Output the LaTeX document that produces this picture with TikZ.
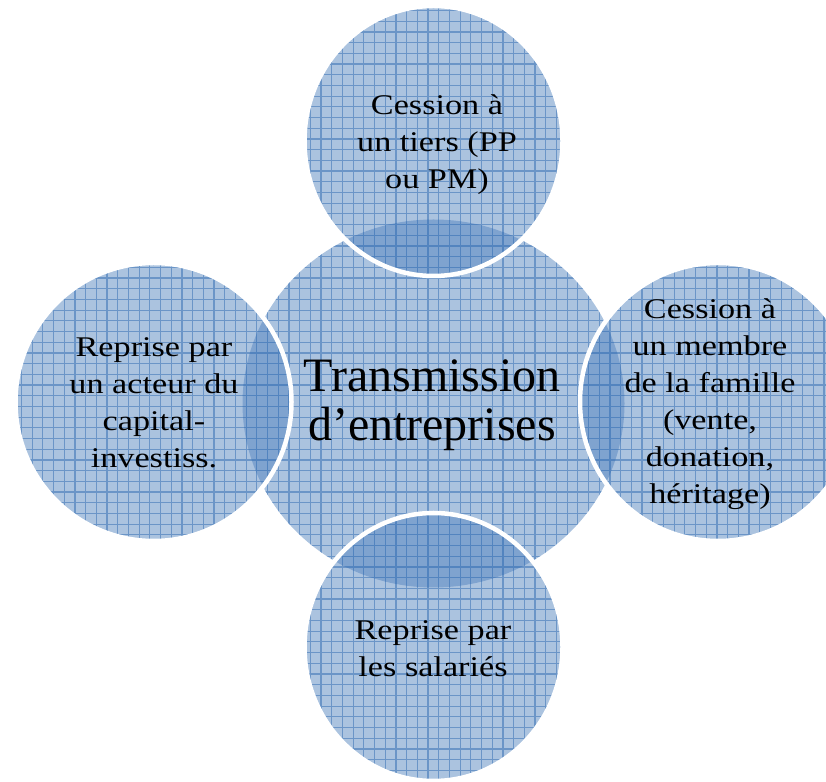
\documentclass[tikz,border=0pt]{standalone}
\usepackage{fontspec}
\setmainfont{Liberation Serif}
\newfontfamily\widefont[FakeStretch=1.2]{Liberation Serif}

\definecolor{bubbleblue}{RGB}{79,129,189}

\tikzset{
    bubble/.style={fill=bubbleblue, fill opacity=0.48},
    gridline/.style={draw=bubbleblue, line width=1.2pt, opacity=0.7},
    rim/.style={draw=white, line width=4.5pt},
    sidetext/.style={align=center, font=\widefont\fontsize{28.5}{37}\selectfont},
    maintext/.style={align=center, font=\fontsize{48}{49}\selectfont}
}

% #1 centre, #2 x radius, #3 y radius
\newcommand{\bubbleat}[3]{%
    \fill[bubble] #1 ellipse [x radius=#2, y radius=#3];
    \begin{scope}
        \clip #1 ellipse [x radius=#2, y radius=#3];
        \draw[gridline, step=10.7] (0,0) grid (826,781);
    \end{scope}
}

\begin{document}
\begin{tikzpicture}[x=1pt, y=1pt]
        \clip (0,0) rectangle (826,781);

        % centre
        \bubbleat{(433.5,377.5)}{191}{184}

        % satellites
        \bubbleat{(433.5,640)}{129}{135}
        \draw[rim] (433.5,640) ellipse [x radius=129, y radius=135];
        \bubbleat{(153.5,379)}{138}{139}
        \draw[rim] (153.5,379) ellipse [x radius=138, y radius=139];
        \bubbleat{(718,379)}{138}{139}
        \draw[rim] (718,379) ellipse [x radius=138, y radius=139];
        \bubbleat{(433.5,134)}{129}{134}
        \draw[rim] (433.5,134) ellipse [x radius=129, y radius=134];

        \node[maintext] (main) at (432,375.6) {Transmission\\d’entreprises};
        \node[sidetext] (tiers) at (437,636) {Cession à\\un tiers (PP\\ou PM)};
        \node[sidetext] (capital) at (154,378) {Reprise par\\un acteur du\\capital-\\investiss.};
        \node[sidetext] (famille) at (710,377) {Cession à\\un membre\\de la famille\\(vente,\\donation,\\héritage)};
        \node[sidetext] (salaries) at (433,132) {Reprise par\\les salariés};
\end{tikzpicture}
\end{document}
